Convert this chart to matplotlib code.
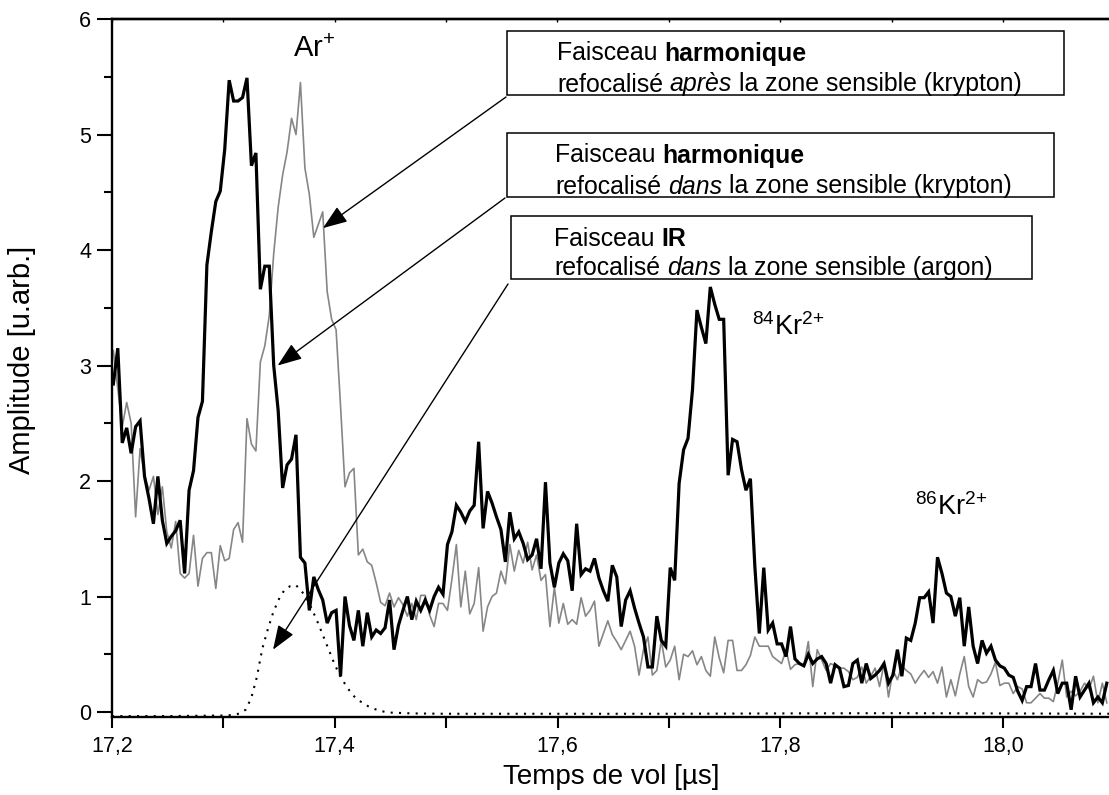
import numpy as np
import matplotlib
matplotlib.use("Agg")
import matplotlib.pyplot as plt
from matplotlib.patches import Rectangle
from matplotlib.ticker import MultipleLocator, FuncFormatter

plt.rcParams['font.family'] = ['Liberation Sans', 'DejaVu Sans']
plt.rcParams['mathtext.fontset'] = 'custom'
plt.rcParams['mathtext.rm'] = 'Liberation Sans'
plt.rcParams['mathtext.it'] = 'Liberation Sans:italic'
plt.rcParams['mathtext.bf'] = 'Liberation Sans:bold'

# ---------------- data ----------------
t_start = 17.2012
t_step = 0.004

# harmonic beam refocused inside the sensitive zone (krypton) - black
harm_dans = [
    2.84, 3.15, 2.33, 2.46, 2.24, 2.47, 2.52, 2.04, 1.85, 1.63,
    2.04, 1.66, 1.46, 1.52, 1.57, 1.66, 1.20, 1.92, 2.09, 2.55,
    2.69, 3.87, 4.16, 4.42, 4.51, 4.87, 5.47, 5.29, 5.29, 5.32,
    5.49, 4.73, 4.84, 3.66, 3.86, 3.86, 3.00, 2.61, 1.94, 2.14,
    2.19, 2.40, 1.34, 1.29, 0.88, 1.17, 1.06, 0.97, 0.77, 0.86,
    0.88, 0.31, 1.00, 0.75, 0.62, 0.88, 0.57, 0.86, 0.65, 0.71,
    0.68, 0.73, 0.97, 0.54, 0.75, 0.88, 1.00, 0.80, 0.96, 0.88,
    0.97, 0.88, 1.00, 1.08, 1.02, 1.45, 1.56, 1.79, 1.73, 1.65,
    1.74, 1.79, 2.34, 1.59, 1.91, 1.81, 1.69, 1.58, 1.30, 1.73,
    1.50, 1.56, 1.46, 1.32, 1.36, 1.50, 1.24, 1.99, 1.29, 1.08,
    1.29, 1.37, 1.31, 1.05, 1.63, 1.19, 1.24, 1.22, 1.33, 1.16,
    1.05, 0.96, 1.27, 1.17, 0.74, 0.97, 1.05, 0.90, 0.77, 0.65,
    0.39, 0.39, 0.83, 0.62, 0.57, 1.25, 1.14, 1.98, 2.27, 2.37,
    2.79, 3.48, 3.33, 3.19, 3.68, 3.53, 3.40, 3.40, 2.05, 2.36,
    2.34, 2.10, 1.92, 2.02, 1.26, 0.68, 1.25, 0.71, 0.77, 0.59,
    0.59, 0.48, 0.74, 0.46, 0.42, 0.40, 0.50, 0.42, 0.46, 0.48,
    0.42, 0.25, 0.41, 0.38, 0.22, 0.23, 0.42, 0.45, 0.25, 0.42,
    0.29, 0.32, 0.36, 0.42, 0.25, 0.32, 0.54, 0.31, 0.64, 0.62,
    0.77, 0.99, 0.99, 1.04, 0.77, 1.34, 1.20, 1.03, 1.00, 0.83,
    0.99, 0.57, 0.91, 0.57, 0.42, 0.62, 0.51, 0.57, 0.45, 0.40,
    0.38, 0.32, 0.30, 0.18, 0.10, 0.22, 0.22, 0.42, 0.19, 0.19,
    0.28, 0.36, 0.16, 0.25, 0.25, 0.02, 0.31, 0.13, 0.19, 0.25,
    0.08, 0.13, 0.08, 0.25,
]

# harmonic beam refocused after the sensitive zone (krypton) - grey
harm_apres = [
    3.13, 2.80, 2.47, 2.68, 2.50, 1.69, 2.28, 2.05, 1.92, 2.04,
    1.71, 1.95, 1.56, 1.42, 1.65, 1.20, 1.16, 1.20, 1.53, 1.09,
    1.33, 1.38, 1.38, 1.07, 1.44, 1.31, 1.33, 1.58, 1.64, 1.47,
    2.54, 2.32, 2.26, 3.03, 3.17, 3.43, 3.97, 4.37, 4.65, 4.85,
    5.14, 5.00, 5.45, 4.71, 4.48, 4.11, 4.22, 4.33, 3.64, 3.40,
    3.31, 2.65, 1.95, 2.07, 2.11, 1.36, 1.41, 1.30, 1.27, 1.12,
    0.95, 0.92, 1.03, 0.91, 0.99, 0.93, 0.83, 0.94, 0.80, 1.01,
    1.01, 0.84, 0.74, 0.94, 0.94, 0.88, 1.15, 1.45, 0.91, 1.22,
    0.85, 0.94, 1.25, 0.70, 0.91, 1.00, 1.03, 1.22, 1.11, 1.45,
    1.22, 1.40, 1.29, 1.47, 1.23, 1.36, 1.14, 1.19, 0.74, 1.08,
    0.77, 0.94, 0.76, 0.80, 0.76, 0.99, 0.83, 0.88, 0.96, 0.57,
    0.68, 0.79, 0.67, 0.61, 0.54, 0.62, 0.70, 0.57, 0.32, 0.54,
    0.65, 0.32, 0.36, 0.62, 0.39, 0.45, 0.57, 0.28, 0.50, 0.48,
    0.53, 0.41, 0.48, 0.36, 0.31, 0.65, 0.47, 0.34, 0.62, 0.62,
    0.36, 0.36, 0.41, 0.49, 0.65, 0.57, 0.57, 0.57, 0.48, 0.45,
    0.42, 0.54, 0.37, 0.41, 0.42, 0.40, 0.61, 0.22, 0.54, 0.45,
    0.36, 0.42, 0.40, 0.38, 0.38, 0.35, 0.28, 0.30, 0.39, 0.25,
    0.31, 0.38, 0.22, 0.42, 0.13, 0.36, 0.28, 0.40, 0.36, 0.33,
    0.25, 0.31, 0.36, 0.30, 0.35, 0.25, 0.39, 0.13, 0.28, 0.14,
    0.33, 0.48, 0.22, 0.13, 0.28, 0.25, 0.26, 0.33, 0.43, 0.23,
    0.25, 0.25, 0.16, 0.22, 0.20, 0.08, 0.08, 0.12, 0.16, 0.12,
    0.12, 0.09, 0.25, 0.45, 0.13, 0.18, 0.14, 0.18, 0.25, 0.20,
    0.31, 0.08, 0.25, 0.08,
]

# IR beam refocused inside the sensitive zone (argon) - dotted
ir_t = [17.20, 17.25, 17.30, 17.31, 17.315, 17.32, 17.325, 17.33, 17.335,
        17.34, 17.345, 17.35, 17.355, 17.36, 17.365, 17.37, 17.375, 17.38,
        17.385, 17.39, 17.395, 17.40, 17.405, 17.41, 17.415, 17.42, 17.43,
        17.44, 17.45, 17.47, 17.50, 17.60, 17.70, 17.80, 17.90, 18.00, 18.10]
ir_v = [-0.035, -0.035, -0.03, -0.025, -0.01, 0.02, 0.12, 0.30, 0.55,
        0.72, 0.87, 0.98, 1.06, 1.09, 1.10, 1.05, 0.98, 0.88,
        0.77, 0.65, 0.53, 0.41, 0.31, 0.23, 0.16, 0.11, 0.05,
        0.01, -0.005, -0.012, -0.015, -0.015, -0.015, -0.012, -0.01, -0.012, -0.015]

x_ticks = [17.2, 17.4, 17.6, 17.8, 18.0]
y_ticks = [0, 1, 2, 3, 4, 5, 6]

box_lines = [
    [[("Faisceau ", "normal", "normal"), ("harmonique", "bold", "normal")],
     [("refocalisé ", "normal", "normal"), ("après ", "normal", "italic"),
      ("la zone sensible (krypton)", "normal", "normal")]],
    [[("Faisceau ", "normal", "normal"), ("harmonique", "bold", "normal")],
     [("refocalisé ", "normal", "normal"), ("dans ", "normal", "italic"),
      ("la zone sensible (krypton)", "normal", "normal")]],
    [[("Faisceau ", "normal", "normal"), ("IR", "bold", "normal")],
     [("refocalisé ", "normal", "normal"), ("dans ", "normal", "italic"),
      ("la zone sensible (argon)", "normal", "normal")]],
]

# ---------------- figure ----------------
W, H = 1109, 795
PX_PER_US = 1113.75
X_RIGHT_PX = 1111
fig = plt.figure(figsize=(W / 100, H / 100), dpi=100)
ax = fig.add_axes([112 / W, 1 - 717 / H, (X_RIGHT_PX - 112) / W, (717 - 19) / H])


def fx(px):
    return px / W


def fy(py):
    return 1 - py / H


n = len(harm_dans)
t = t_start + t_step * np.arange(n)

ax.plot(t, harm_apres, color='#868686', lw=1.2, zorder=2)
ax.plot(t, harm_dans, color='black', lw=2.3, zorder=3, solid_joinstyle='miter')
ax.plot(ir_t, ir_v, color='black', lw=1.5, linestyle=(0, (1, 3.0)), zorder=2)

ax.set_xlim(17.2, 17.2 + (X_RIGHT_PX - 112) / PX_PER_US)
ax.set_ylim(-0.043, 6.0)

ax.set_xticks(x_ticks)
ax.xaxis.set_minor_locator(MultipleLocator(0.1))
ax.xaxis.set_major_formatter(FuncFormatter(lambda v, p: f"{v:.1f}".replace('.', ',')))
ax.set_yticks(y_ticks)
ax.yaxis.set_minor_locator(MultipleLocator(0.5))

ax.tick_params(axis='x', which='major', direction='out', length=8, width=1.5,
               labelsize=15.5, pad=6, top=False)
ax.tick_params(axis='x', which='minor', direction='out', length=8, width=1.5, top=False)
ax.tick_params(axis='y', which='major', direction='out', length=11, width=1.5,
               labelsize=15.5, pad=4, right=False)
ax.tick_params(axis='y', which='minor', direction='out', length=5.5, width=1.5, right=False)

for s in ax.spines.values():
    s.set_linewidth(1.7)

top = ax.secondary_xaxis('top')
top.xaxis.set_major_locator(MultipleLocator(0.1))
top.tick_params(axis='x', which='both', direction='in', length=2.5, width=1.0,
                labeltop=False)
top.spines['top'].set_linewidth(1.7)

ax.set_xlabel("Temps de vol [µs]", fontsize=20)
ax.xaxis.set_label_coords(0.5, -0.068)
fig.text(fx(22), fy(360), "Amplitude [u.arb.]", rotation=90, fontsize=21,
         ha='center', va='center')

# peak labels
ax.text(17.3625, 5.67, r"Ar$^{+}$", fontsize=21, ha='left', va='baseline')
ax.text(17.7746, 3.26, r"$^{84}$Kr$^{2{+}}$", fontsize=19.5, ha='left', va='baseline')
ax.text(17.9210, 1.71, r"$^{86}$Kr$^{2{+}}$", fontsize=19.5, ha='left', va='baseline')

# ---------------- boxes ----------------
renderer = fig.canvas.get_renderer()
FS = 17.9


def width_of(s, weight, style):
    tt = fig.text(0, 0, s + "|", fontsize=FS, fontweight=weight, fontstyle=style)
    tb = fig.text(0, 0, "|", fontsize=FS, fontweight=weight, fontstyle=style)
    w = tt.get_window_extent(renderer).width - tb.get_window_extent(renderer).width
    tt.remove()
    tb.remove()
    return w


def rich_line(x0, yc, parts):
    cur = x0
    for s, weight, style in parts:
        fig.text(fx(cur), fy(yc), s.strip(), fontsize=FS, fontweight=weight,
                 fontstyle=style, ha='left', va='center_baseline', zorder=8)
        cur += width_of(s, weight, style)


boxes_px = [(507, 31, 1064, 95), (507, 133, 1054, 197), (511, 216, 1032, 279)]
text_x = [557, 555, 554]
line_y = [(49, 80), (151, 182), (234, 264)]

for (x0, y0, x1, y1), tx, (ly1, ly2), lines in zip(boxes_px, text_x, line_y, box_lines):
    fig.add_artist(Rectangle((fx(x0), fy(y1)), fx(x1) - fx(x0), fy(y0) - fy(y1),
                             transform=fig.transFigure, fill=True, facecolor='white',
                             edgecolor='black', lw=1.1, zorder=5))
    rich_line(tx, ly1 + 2, lines[0])
    rich_line(tx, ly2 + 2, lines[1])

# ---------------- arrows ----------------
arrows = [((506, 97), (17.3894, 4.19)),
          ((505, 198), (17.3487, 3.00)),
          ((508, 284), (17.3446, 0.54))]
for (sx, sy), tip in arrows:
    ax.annotate("", xy=tip, xycoords='data', xytext=(fx(sx), fy(sy)),
                textcoords='figure fraction',
                arrowprops=dict(arrowstyle='-|>,head_length=0.75,head_width=0.28',
                                color='black', lw=1.0, mutation_scale=20,
                                shrinkA=0, shrinkB=0), zorder=6)

fig.savefig("out.png", dpi=100)
